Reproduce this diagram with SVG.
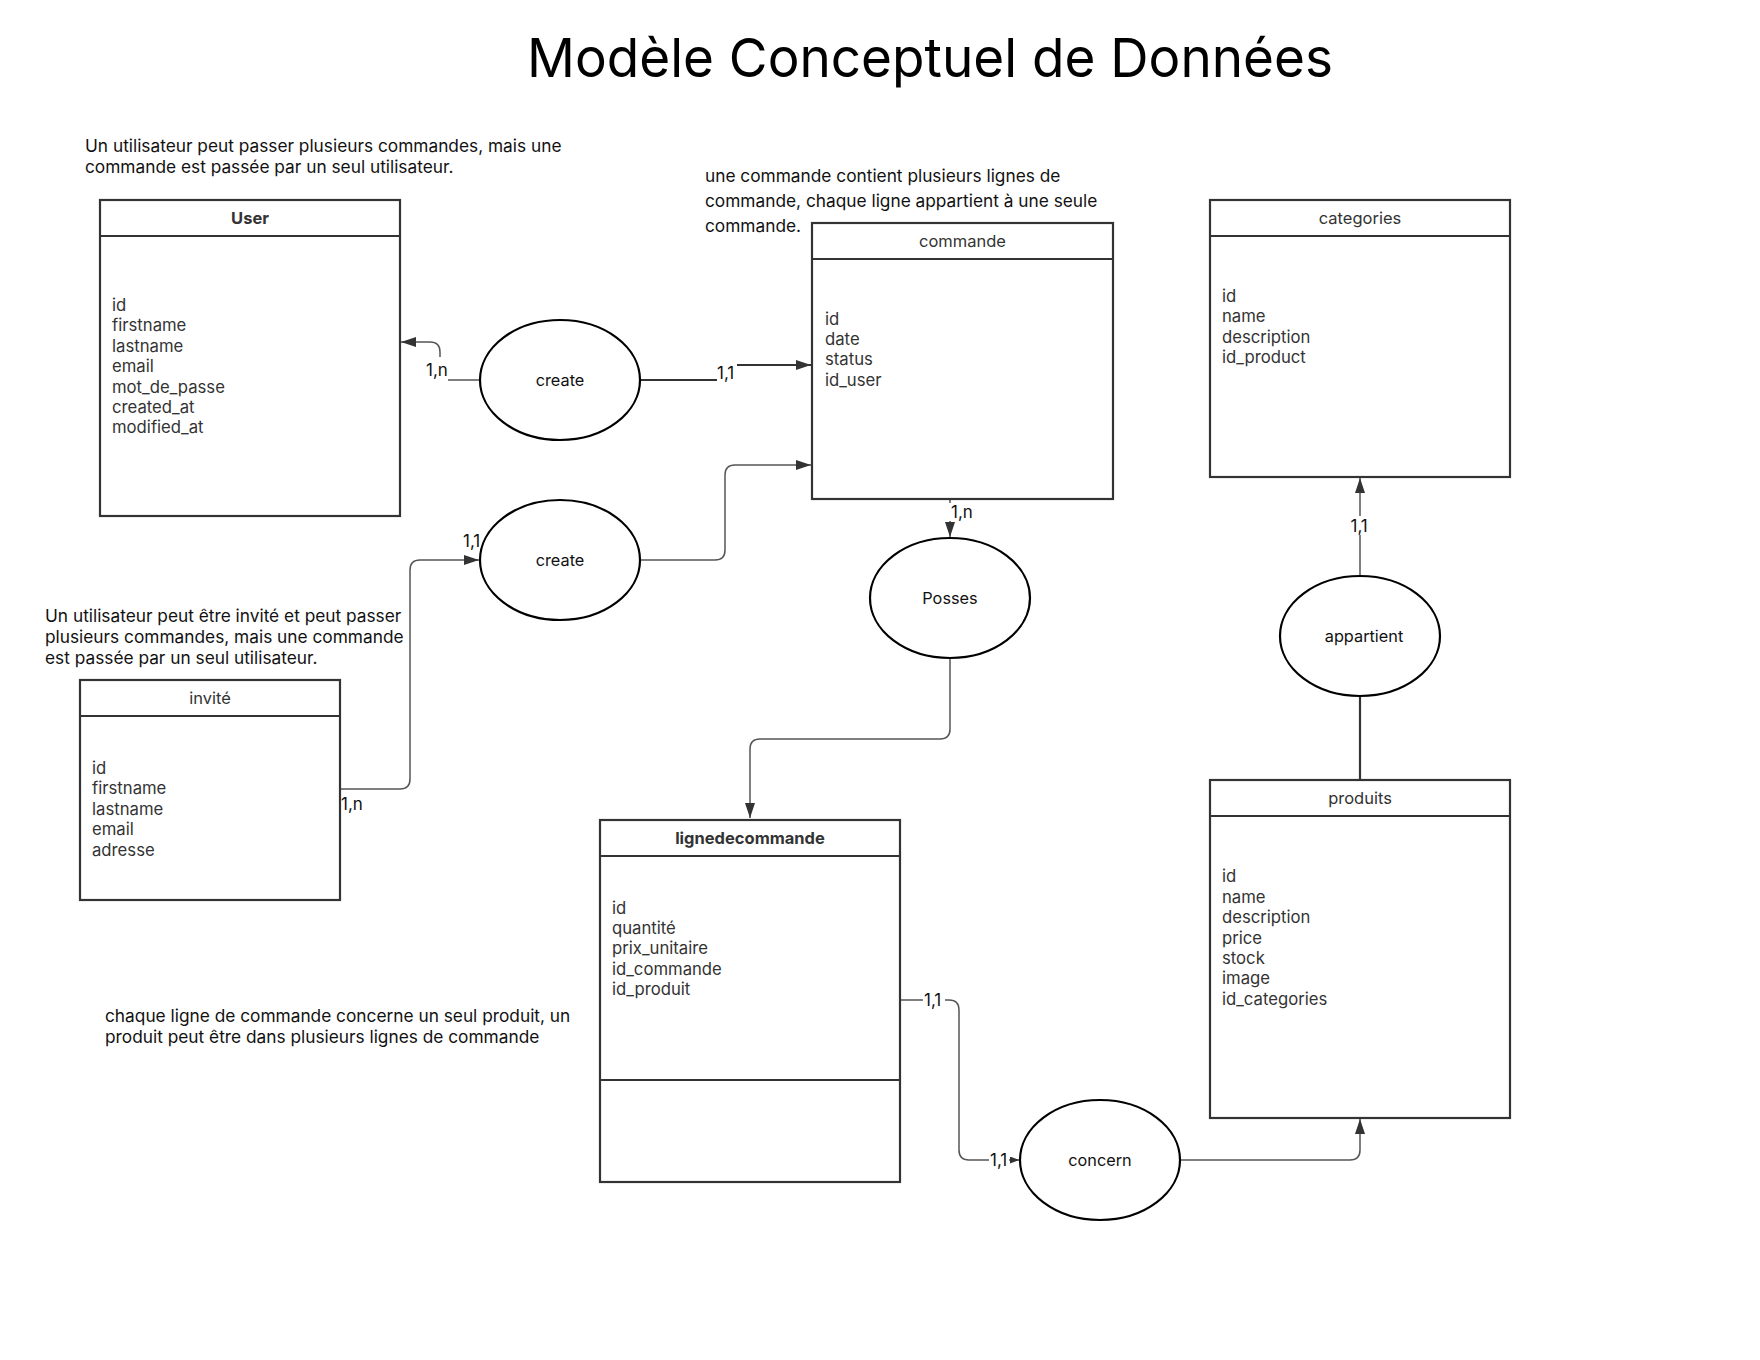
<svg xmlns="http://www.w3.org/2000/svg" width="1760" height="1360" viewBox="0 0 1760 1360">
<style>
text{font-family:Inter,"Liberation Sans",sans-serif;}
.title{font-size:54px;fill:#000;}
.note{font-size:17.3px;fill:#111;}
.box{fill:#fff;stroke:#333;stroke-width:2.2;}
.hd{font-size:16.5px;fill:#333;text-anchor:middle;}
.hdb{font-size:16.5px;fill:#333;text-anchor:middle;font-weight:bold;}
.fld{font-size:16.7px;fill:#333;}
.ell{fill:#fff;stroke:#000;stroke-width:2.2;}
.el{font-size:16.3px;fill:#111;text-anchor:middle;}
.c1{fill:none;stroke:#555;stroke-width:1.5;}
.c2{fill:none;stroke:#333;stroke-width:2.2;}
.lbl{font-size:17px;fill:#111;}
.bg{fill:#fff;stroke:none;}
</style>
<defs>
<marker id="arr" viewBox="0 0 15 10" refX="15" refY="5" markerWidth="15" markerHeight="10" markerUnits="userSpaceOnUse" orient="auto">
<path d="M0,0 L15,5 L0,10 z" fill="#333"/>
</marker>
<marker id="arrs" viewBox="0 0 9 7" refX="9" refY="3.5" markerWidth="9" markerHeight="7" markerUnits="userSpaceOnUse" orient="auto">
<path d="M0,0 L9,3.5 L0,7 z" fill="#333"/>
</marker>
</defs>
<rect width="1760" height="1360" fill="#fff"/>

<text class="title" x="527" y="77" textLength="806" lengthAdjust="spacingAndGlyphs">Modèle Conceptuel de Données</text>

<g id="notes">
<text class="note" x="85" y="152">Un utilisateur peut passer plusieurs commandes, mais une</text>
<text class="note" x="85" y="173">commande est passée par un seul utilisateur.</text>
<text class="note" x="705" y="182">une commande contient plusieurs lignes de</text>
<text class="note" x="705" y="207">commande, chaque ligne appartient à une seule</text>
<text class="note" x="705" y="232">commande.</text>
<text class="note" x="45" y="622">Un utilisateur peut être invité et peut passer</text>
<text class="note" x="45" y="643">plusieurs commandes, mais une commande</text>
<text class="note" x="45" y="664">est passée par un seul utilisateur.</text>
<text class="note" x="105" y="1022">chaque ligne de commande concerne un seul produit, un</text>
<text class="note" x="105" y="1043">produit peut être dans plusieurs lignes de commande</text>
</g>

<g id="connectors">
<path class="c1" d="M480,380 H440 V352 Q440,342 430,342 H401" marker-end="url(#arr)"/>
<path class="c2" d="M640,380 H717"/>
<path class="c2" d="M737,365 H811" marker-end="url(#arr)"/>
<path class="c1" d="M340,789 H400 Q410,789 410,779 V570 Q410,560 420,560 H479" marker-end="url(#arr)"/>
<path class="c1" d="M640,560 H715 Q725,560 725,550 V475 Q725,465 735,465 H811" marker-end="url(#arr)"/>
<path class="c1" d="M950,499 V537" marker-end="url(#arr)"/>
<path class="c1" d="M950,658 V729 Q950,739 940,739 H760 Q750,739 750,749 V818" marker-end="url(#arr)"/>
<path class="c1" d="M1360,576 V478" marker-end="url(#arr)"/>
<path class="c2" d="M1360,696 V780"/>
<path class="c1" d="M901,1000 H949 Q959,1000 959,1010 V1150 Q959,1160 969,1160 H1019" marker-end="url(#arrs)"/>
<path class="c1" d="M1180,1160 H1350 Q1360,1160 1360,1150 V1119" marker-end="url(#arr)"/>

<rect class="bg" x="427" y="357" width="21" height="24"/>
<text class="lbl" x="426" y="376">1,n</text>
<text class="lbl" x="717" y="379">1,1</text>
<text class="lbl" x="463" y="547">1,1</text>
<text class="lbl" x="341" y="810">1,n</text>
<rect class="bg" x="946" y="503" width="30" height="18"/>
<text class="lbl" x="951" y="518">1,n</text>
<rect class="bg" x="1350" y="516" width="21" height="19"/>
<text class="lbl" x="1350.5" y="532">1,1</text>
<rect class="bg" x="923" y="992" width="22" height="16"/>
<text class="lbl" x="924" y="1006">1,1</text>
<rect class="bg" x="989" y="1152" width="20" height="16"/>
<text class="lbl" x="990" y="1166">1,1</text>
</g>

<g id="user">
<rect class="box" x="100" y="200" width="300" height="316"/>
<line class="box" x1="100" y1="236" x2="400" y2="236"/>
<text class="hdb" x="250" y="224">User</text>
<text class="fld" x="112" y="311">id</text>
<text class="fld" x="112" y="331.4">firstname</text>
<text class="fld" x="112" y="351.8">lastname</text>
<text class="fld" x="112" y="372.2">email</text>
<text class="fld" x="112" y="392.6">mot_de_passe</text>
<text class="fld" x="112" y="413">created_at</text>
<text class="fld" x="112" y="433.4">modified_at</text>
</g>

<g id="commande">
<rect class="box" x="812" y="223" width="301" height="276"/>
<line class="box" x1="812" y1="259" x2="1113" y2="259"/>
<text class="hd" x="962.5" y="247">commande</text>
<text class="fld" x="825" y="324.6">id</text>
<text class="fld" x="825" y="345">date</text>
<text class="fld" x="825" y="365.4">status</text>
<text class="fld" x="825" y="385.8">id_user</text>
</g>

<g id="categories">
<rect class="box" x="1210" y="200" width="300" height="277"/>
<line class="box" x1="1210" y1="236" x2="1510" y2="236"/>
<text class="hd" x="1360" y="224">categories</text>
<text class="fld" x="1222" y="302">id</text>
<text class="fld" x="1222" y="322.4">name</text>
<text class="fld" x="1222" y="342.8">description</text>
<text class="fld" x="1222" y="363.2">id_product</text>
</g>

<g id="invite">
<rect class="box" x="80" y="680" width="260" height="220"/>
<line class="box" x1="80" y1="716" x2="340" y2="716"/>
<text class="hd" x="210" y="704">invité</text>
<text class="fld" x="92" y="774">id</text>
<text class="fld" x="92" y="794.4">firstname</text>
<text class="fld" x="92" y="814.8">lastname</text>
<text class="fld" x="92" y="835.2">email</text>
<text class="fld" x="92" y="855.6">adresse</text>
</g>

<g id="lignedecommande">
<rect class="box" x="600" y="820" width="300" height="362"/>
<line class="box" x1="600" y1="856" x2="900" y2="856"/>
<line class="box" x1="600" y1="1080" x2="900" y2="1080"/>
<text class="hdb" x="750" y="844">lignedecommande</text>
<text class="fld" x="612" y="913.5">id</text>
<text class="fld" x="612" y="933.9">quantité</text>
<text class="fld" x="612" y="954.3">prix_unitaire</text>
<text class="fld" x="612" y="974.7">id_commande</text>
<text class="fld" x="612" y="995.1">id_produit</text>
</g>

<g id="produits">
<rect class="box" x="1210" y="780" width="300" height="338"/>
<line class="box" x1="1210" y1="816" x2="1510" y2="816"/>
<text class="hd" x="1360" y="804">produits</text>
<text class="fld" x="1222" y="882.4">id</text>
<text class="fld" x="1222" y="902.8">name</text>
<text class="fld" x="1222" y="923.2">description</text>
<text class="fld" x="1222" y="943.6">price</text>
<text class="fld" x="1222" y="964">stock</text>
<text class="fld" x="1222" y="984.4">image</text>
<text class="fld" x="1222" y="1004.8">id_categories</text>
</g>

<g id="create1">
<ellipse class="ell" cx="560" cy="380" rx="80" ry="60"/>
<text class="el" x="560" y="386">create</text>
</g>
<g id="create2">
<ellipse class="ell" cx="560" cy="560" rx="80" ry="60"/>
<text class="el" x="560" y="566">create</text>
</g>
<g id="posses">
<ellipse class="ell" cx="950" cy="598" rx="80" ry="60"/>
<text class="el" x="950" y="604">Posses</text>
</g>
<g id="appartient">
<ellipse class="ell" cx="1360" cy="636" rx="80" ry="60"/>
<text class="el" x="1364" y="642">appartient</text>
</g>
<g id="concern">
<ellipse class="ell" cx="1100" cy="1160" rx="80" ry="60"/>
<text class="el" x="1100" y="1166">concern</text>
</g>
</svg>
